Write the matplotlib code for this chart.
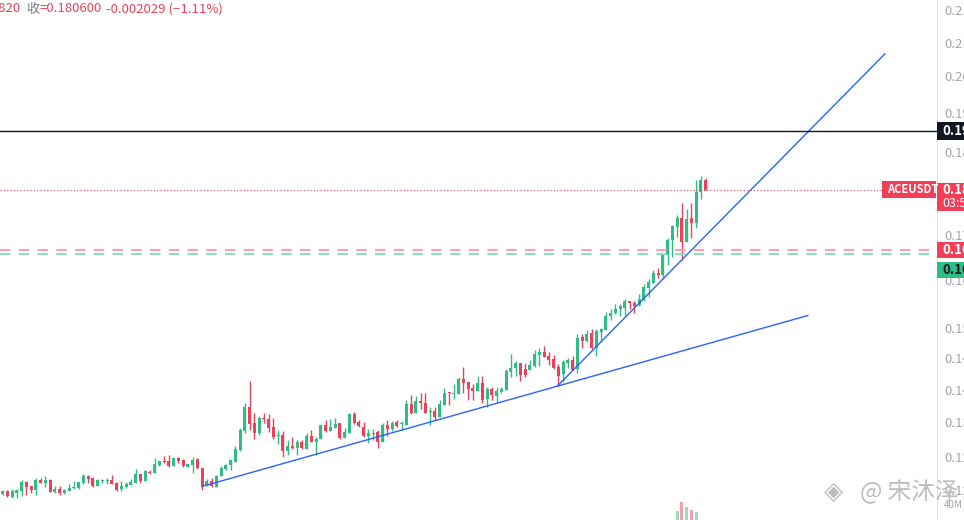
import matplotlib
matplotlib.use('Agg')
import matplotlib.pyplot as plt
from matplotlib.patches import Rectangle
from matplotlib.transforms import blended_transform_factory
import numpy as np

plt.rcParams['font.family'] = ['Noto Sans CJK SC', 'DejaVu Sans']

# ACEUSDT candles (oldest -> newest)
opens = [0.1198, 0.1204, 0.1192, 0.1200, 0.1204, 0.1222, 0.1214, 0.1206, 0.1226, 0.1220,
         0.1226, 0.1202, 0.1208, 0.1200, 0.1204, 0.1210, 0.1210, 0.1220, 0.1234, 0.1230,
         0.1214, 0.1224, 0.1224, 0.1226, 0.1220, 0.1208, 0.1212, 0.1216, 0.1220, 0.1238,
         0.1224, 0.1242, 0.1240, 0.1256, 0.1264, 0.1264, 0.1254, 0.1270, 0.1266, 0.1252,
         0.1256, 0.1268, 0.1250, 0.1216, 0.1224, 0.1212, 0.1234, 0.1248, 0.1256, 0.1262,
         0.1286, 0.1324, 0.1372, 0.1340, 0.1320, 0.1350, 0.1348, 0.1332, 0.1314, 0.1316,
         0.1284, 0.1294, 0.1290, 0.1302, 0.1288, 0.1314, 0.1302, 0.1308, 0.1336, 0.1324,
         0.1330, 0.1340, 0.1310, 0.1320, 0.1358, 0.1342, 0.1332, 0.1314, 0.1318, 0.1322,
         0.1302, 0.1336, 0.1328, 0.1342, 0.1338, 0.1336, 0.1378, 0.1360, 0.1384, 0.1380,
         0.1362, 0.1364, 0.1352, 0.1376, 0.1402, 0.1398, 0.1398, 0.1428, 0.1422, 0.1410,
         0.1404, 0.1420, 0.1388, 0.1408, 0.1394, 0.1402, 0.1406, 0.1442, 0.1450, 0.1460,
         0.1448, 0.1446, 0.1454, 0.1476, 0.1482, 0.1474, 0.1468, 0.1452, 0.1438, 0.1460,
         0.1466, 0.1448, 0.1512, 0.1504, 0.1520, 0.1490, 0.1522, 0.1526, 0.1554, 0.1560,
         0.1568, 0.1570, 0.1584, 0.1580, 0.1576, 0.1586, 0.1610, 0.1620, 0.1640, 0.1636,
         0.1676, 0.1706, 0.1732, 0.1750, 0.1702, 0.1750, 0.1740, 0.1802, 0.1826]
highs = [0.1206, 0.1206, 0.1208, 0.1208, 0.1226, 0.1224, 0.1214, 0.1230, 0.1230, 0.1234,
         0.1228, 0.1214, 0.1214, 0.1208, 0.1218, 0.1224, 0.1222, 0.1238, 0.1236, 0.1230,
         0.1228, 0.1228, 0.1230, 0.1236, 0.1222, 0.1224, 0.1222, 0.1228, 0.1248, 0.1238,
         0.1246, 0.1246, 0.1270, 0.1264, 0.1274, 0.1276, 0.1270, 0.1272, 0.1268, 0.1258,
         0.1272, 0.1270, 0.1250, 0.1228, 0.1230, 0.1236, 0.1254, 0.1258, 0.1268, 0.1294,
         0.1330, 0.1380, 0.1424, 0.1360, 0.1354, 0.1360, 0.1358, 0.1350, 0.1326, 0.1324,
         0.1306, 0.1312, 0.1306, 0.1306, 0.1320, 0.1326, 0.1312, 0.1338, 0.1346, 0.1348,
         0.1350, 0.1340, 0.1330, 0.1360, 0.1362, 0.1346, 0.1342, 0.1328, 0.1328, 0.1326,
         0.1340, 0.1346, 0.1344, 0.1346, 0.1344, 0.1386, 0.1396, 0.1394, 0.1400, 0.1400,
         0.1372, 0.1372, 0.1386, 0.1410, 0.1402, 0.1418, 0.1432, 0.1452, 0.1422, 0.1418,
         0.1434, 0.1434, 0.1412, 0.1412, 0.1412, 0.1412, 0.1448, 0.1478, 0.1464, 0.1460,
         0.1460, 0.1466, 0.1486, 0.1490, 0.1494, 0.1482, 0.1476, 0.1458, 0.1466, 0.1470,
         0.1474, 0.1518, 0.1518, 0.1526, 0.1528, 0.1528, 0.1530, 0.1562, 0.1568, 0.1578,
         0.1578, 0.1588, 0.1584, 0.1584, 0.1598, 0.1618, 0.1628, 0.1646, 0.1650, 0.1680,
         0.1710, 0.1736, 0.1756, 0.1780, 0.1768, 0.1780, 0.1826, 0.1834, 0.1830]
lows = [0.1196, 0.1192, 0.1190, 0.1190, 0.1194, 0.1196, 0.1200, 0.1196, 0.1220, 0.1212,
        0.1202, 0.1200, 0.1196, 0.1198, 0.1204, 0.1208, 0.1208, 0.1218, 0.1220, 0.1212,
        0.1214, 0.1220, 0.1218, 0.1218, 0.1204, 0.1204, 0.1210, 0.1216, 0.1220, 0.1220,
        0.1224, 0.1238, 0.1240, 0.1254, 0.1260, 0.1252, 0.1254, 0.1260, 0.1252, 0.1252,
        0.1240, 0.1248, 0.1206, 0.1214, 0.1212, 0.1212, 0.1234, 0.1246, 0.1246, 0.1262,
        0.1284, 0.1320, 0.1326, 0.1308, 0.1316, 0.1340, 0.1322, 0.1308, 0.1298, 0.1272,
        0.1276, 0.1288, 0.1276, 0.1288, 0.1288, 0.1302, 0.1276, 0.1308, 0.1322, 0.1324,
        0.1330, 0.1308, 0.1310, 0.1320, 0.1338, 0.1332, 0.1312, 0.1300, 0.1306, 0.1290,
        0.1302, 0.1314, 0.1324, 0.1332, 0.1326, 0.1336, 0.1358, 0.1360, 0.1368, 0.1360,
        0.1336, 0.1346, 0.1352, 0.1376, 0.1376, 0.1388, 0.1398, 0.1400, 0.1386, 0.1386,
        0.1404, 0.1380, 0.1372, 0.1386, 0.1380, 0.1400, 0.1406, 0.1432, 0.1434, 0.1424,
        0.1432, 0.1446, 0.1452, 0.1454, 0.1472, 0.1456, 0.1448, 0.1414, 0.1422, 0.1450,
        0.1446, 0.1440, 0.1490, 0.1502, 0.1488, 0.1474, 0.1502, 0.1526, 0.1546, 0.1558,
        0.1554, 0.1554, 0.1568, 0.1560, 0.1574, 0.1584, 0.1592, 0.1620, 0.1630, 0.1628,
        0.1656, 0.1672, 0.1712, 0.1666, 0.1702, 0.1710, 0.1730, 0.1788, 0.1806]
closes = [0.1204, 0.1194, 0.1204, 0.1206, 0.1222, 0.1212, 0.1206, 0.1226, 0.1220, 0.1226,
          0.1202, 0.1208, 0.1200, 0.1206, 0.1210, 0.1212, 0.1222, 0.1234, 0.1228, 0.1214,
          0.1226, 0.1226, 0.1226, 0.1218, 0.1206, 0.1214, 0.1218, 0.1222, 0.1238, 0.1224,
          0.1244, 0.1240, 0.1258, 0.1264, 0.1262, 0.1254, 0.1270, 0.1264, 0.1254, 0.1258,
          0.1266, 0.1250, 0.1214, 0.1224, 0.1214, 0.1234, 0.1250, 0.1256, 0.1266, 0.1288,
          0.1326, 0.1372, 0.1338, 0.1320, 0.1350, 0.1348, 0.1330, 0.1312, 0.1316, 0.1284,
          0.1294, 0.1290, 0.1302, 0.1290, 0.1314, 0.1302, 0.1308, 0.1336, 0.1324, 0.1332,
          0.1338, 0.1310, 0.1322, 0.1358, 0.1340, 0.1334, 0.1314, 0.1320, 0.1320, 0.1302,
          0.1336, 0.1328, 0.1340, 0.1334, 0.1340, 0.1378, 0.1360, 0.1384, 0.1380, 0.1360,
          0.1364, 0.1352, 0.1378, 0.1400, 0.1400, 0.1400, 0.1428, 0.1420, 0.1408, 0.1404,
          0.1420, 0.1386, 0.1408, 0.1396, 0.1404, 0.1408, 0.1444, 0.1450, 0.1460, 0.1436,
          0.1436, 0.1456, 0.1478, 0.1482, 0.1472, 0.1466, 0.1450, 0.1434, 0.1462, 0.1466,
          0.1446, 0.1510, 0.1504, 0.1518, 0.1490, 0.1524, 0.1528, 0.1554, 0.1560, 0.1568,
          0.1574, 0.1584, 0.1580, 0.1574, 0.1588, 0.1612, 0.1622, 0.1640, 0.1636, 0.1678,
          0.1706, 0.1734, 0.1750, 0.1702, 0.1748, 0.1740, 0.1802, 0.1826, 0.1806]

# only the tallest volume bars reach into the visible strip
vol_idx = [142, 143, 144, 145, 146]
vol_vals = [37.0e6, 40.8e6, 38.5e6, 37.5e6, 36.5e6]

# drawn trend lines: (bar index, price)
trend_low = [(41.9, 0.1213), (169.5, 0.1555)]
trend_fast = [(116.8, 0.1414), (185.7, 0.2078)]

level_black = 0.1924
level_pink = 0.1685
level_green = 0.1678
last_price = 0.1806

price_ticks = [0.2166, 0.2100, 0.2034, 0.1960, 0.1882, 0.1716, 0.1626,
               0.1530, 0.1470, 0.1406, 0.1342, 0.1272, 0.1206]

up = '#2ebd85'
down = '#f23f57'
grid_c = '#e0e3eb'
txt_c = '#a3a6ae'

W, H = 964, 520
fig = plt.figure(figsize=(W / 100, H / 100), dpi=100)
ax = fig.add_axes([0, 21 / H, 937 / W, 499 / H])
vax = fig.add_axes([0, -80 / H, 937 / W, 101 / H])

x = np.arange(len(opens))
o = np.array(opens)
c = np.array(closes)
hi = np.array(highs)
lo = np.array(lows)
col = np.where(c >= o, up, down)

ax.vlines(x, lo, hi, colors=col, lw=1)
body = np.maximum(np.abs(c - o), 0.00018)
ax.bar(x, body, bottom=np.minimum(o, c), width=0.64, color=col, linewidth=0)

# trend lines
for seg in (trend_low, trend_fast):
    ax.plot([seg[0][0], seg[1][0]], [seg[0][1], seg[1][1]], color='#2962ff', lw=1)

ax.axhline(level_black, color='#131722', lw=1)
ax.axhline(level_pink, color='#f7a1a8', lw=1.5, dashes=(5, 4))
ax.axhline(level_green, color='#8fdcc0', lw=1.5, dashes=(5, 4))
ax.axhline(last_price, xmax=882 / 937, color=down, lw=0.8, dashes=(1, 2))

ax.set_xlim(-0.57, 196.7)
ax.set_ylim(0.1188, 0.2186)
ax.yaxis.tick_right()
ax.set_yticks(price_ticks)
ax.set_yticklabels(['%.4f' % t for t in price_ticks])
ax.tick_params(axis='y', length=0, pad=5, labelsize=9.5, labelcolor=txt_c)
ax.set_xticks([])
for s in ['top', 'left']:
    ax.spines[s].set_visible(False)
ax.spines['right'].set_color(grid_c)
ax.spines['bottom'].set_color(grid_c)

# volume strip
vcol = [up if closes[i] >= opens[i] else down for i in vol_idx]
vax.bar(vol_idx, vol_vals, width=0.64, color=vcol, alpha=0.5, linewidth=0)
vax.set_xlim(-0.57, 196.7)
vax.set_ylim(0, 42e6)
vax.yaxis.tick_right()
vax.set_yticks([40e6])
vax.set_yticklabels(['40M'])
vax.tick_params(axis='y', length=0, pad=5, labelsize=7, labelcolor=txt_c)
vax.set_xticks([])
for s in ['top', 'left', 'bottom']:
    vax.spines[s].set_visible(False)
vax.spines['right'].set_color(grid_c)

# price scale labels
tr = blended_transform_factory(fig.transFigure, ax.transData)
px = 0.0002  # price per pixel on this scale


def tag(x0, x1, y_top, y_bot, fc, text, tc, size=9.5, yt=None):
    fig.add_artist(Rectangle((x0 / W, y_bot), (x1 - x0) / W, y_top - y_bot,
                             transform=tr, facecolor=fc, edgecolor='none', clip_on=False))
    fig.text((x0 + 5) / W, (y_top + y_bot) / 2 if yt is None else yt, text,
             transform=tr, color=tc, fontsize=size, fontweight='bold', va='center', ha='left')


tag(937, 970, level_black + 8.5 * px, level_black - 8.5 * px, '#131722', '0.1924', 'white')
tag(937, 970, last_price + 7 * px, last_price - 21 * px, down, '%.4f' % last_price, 'white',
    yt=last_price)
fig.text(942 / W, last_price - 14 * px, '03:52', transform=tr, color='white', fontsize=9,
         va='center', ha='left')
tag(882, 936, last_price + 8.5 * px, last_price - 8.5 * px, down, 'ACEUSDT', 'white', size=8)
tag(937, 970, level_pink + 8 * px, level_pink - 8 * px, down, '%.4f' % level_pink, 'white')
tag(937, 970, level_green - 8 * px, level_green - 24 * px, '#2ebd85', '%.4f' % level_green,
    '#131722')

# header
hy = 1 - 9 / H
fig.text(21 / W, hy, '0.179820', color=down, fontsize=9.5, ha='right', va='center')
fig.text(26 / W, hy, '收', color='#787b86', fontsize=9.5, va='center')
fig.text(39 / W, hy, '=0.180600', color=down, fontsize=9.5, va='center')
fig.text(106 / W, hy, '-0.002029 (−1.11%)', color=down, fontsize=9.5, va='center')

# watermark
fig.text(824 / W, 1 - 492 / H, '◈', color='#bdbdbd', fontsize=18, va='center',
         family=['DejaVu Sans'])
fig.text(860 / W, 1 - 492 / H, '@ 宋沐泽', color='#bdbdbd', fontsize=17, va='center')

fig.savefig('out.png', dpi=100)
